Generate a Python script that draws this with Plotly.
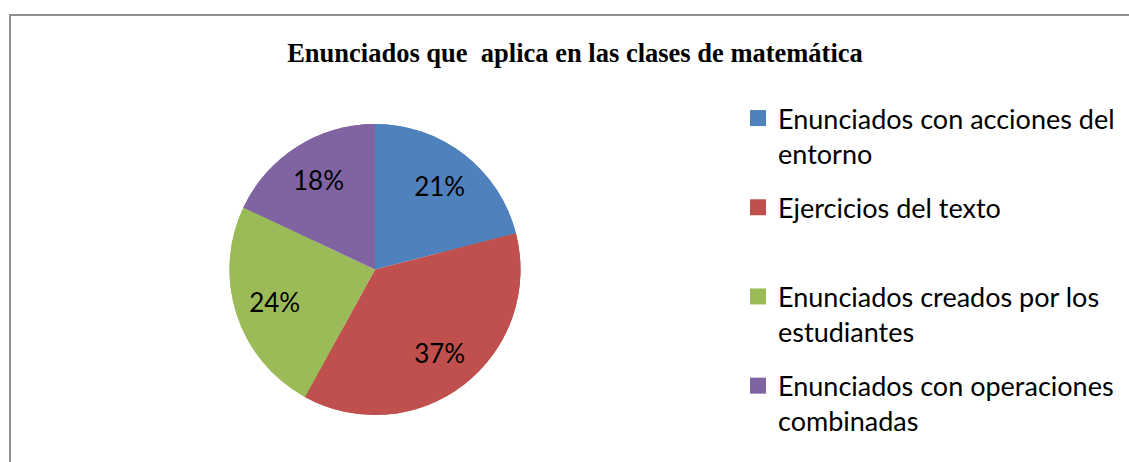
import plotly.graph_objects as go

categories = [
    "Enunciados con acciones del<br>entorno",
    "Ejercicios del texto<br> ",
    "Enunciados creados por los<br>estudiantes",
    "Enunciados con operaciones<br>combinadas",
]
values = [21, 37, 24, 18]
colors = ["#4F81BD", "#C0504D", "#9BBB59", "#8064A2"]
title_text = "Enunciados que  aplica en las clases de matemática"

W, H = 1129, 462
pie_domain = dict(x=[229.5 / W, 520.5 / W], y=[47 / H, 338 / H])

fig = go.Figure()
# full pie underneath (colour only)
fig.add_trace(
    go.Pie(
        labels=categories,
        values=values,
        sort=False,
        direction="clockwise",
        rotation=0,
        marker=dict(colors=colors, line=dict(width=0)),
        textinfo="none",
        domain=pie_domain,
        hoverinfo="skip",
        showlegend=False,
    )
)
# ring on top carrying the percentage labels further out
fig.add_trace(
    go.Pie(
        labels=categories,
        values=values,
        sort=False,
        direction="clockwise",
        rotation=0,
        hole=0.45,
        marker=dict(colors=colors, line=dict(width=0)),
        textinfo="percent",
        textposition="inside",
        insidetextorientation="horizontal",
        textfont=dict(family="Lato", size=26, color="black"),
        domain=pie_domain,
        hoverinfo="skip",
        showlegend=False,
    )
)
# legend entries
for i, (cat, col) in enumerate(zip(categories, colors)):
    fig.add_trace(
        go.Scatter(
            x=[None],
            y=[None],
            mode="markers",
            name=cat,
            legendgroup=f"g{i}",
            marker=dict(symbol="square", size=16, color=col),
            hoverinfo="skip",
        )
    )

fig.update_layout(
    width=W,
    height=H,
    margin=dict(l=0, r=0, t=0, b=0),
    paper_bgcolor="white",
    plot_bgcolor="white",
    xaxis=dict(visible=False),
    yaxis=dict(visible=False),
    title=dict(
        text="<b>" + title_text + "</b>",
        font=dict(family="Liberation Serif", size=26.5, color="black"),
        x=575 / W,
        xanchor="center",
        y=1 - 53 / H,
        yanchor="middle",
    ),
    legend=dict(
        x=738 / W,
        xanchor="left",
        y=1 - 94 / H,
        yanchor="top",
        valign="top",
        font=dict(family="Lato", size=27, color="black"),
        bgcolor="rgba(0,0,0,0)",
        tracegroupgap=16,
        traceorder="grouped",
    ),
    showlegend=True,
    uniformtext=dict(minsize=26, mode="show"),
    shapes=[
        dict(
            type="rect",
            xref="paper",
            yref="paper",
            x0=10 / W,
            x1=1.05,
            y0=-0.05,
            y1=1 - 15 / H,
            line=dict(color="#8f8f8f", width=2),
            fillcolor="rgba(0,0,0,0)",
            layer="below",
        )
    ],
)

fig.write_html(
    "out.html",
    config={"displayModeBar": False},
    post_script="document.body.style.margin='0';",
)
